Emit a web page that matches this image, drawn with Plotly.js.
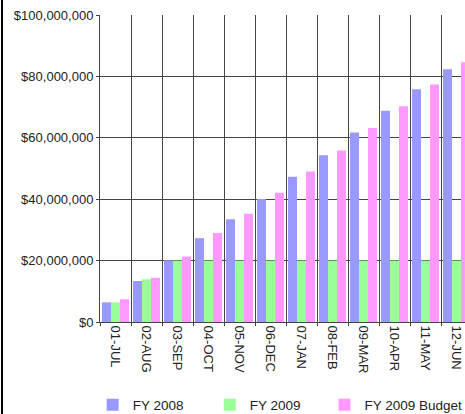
<!DOCTYPE html>
<html>
<head>
<meta charset="utf-8">
<script src="https://cdn.plot.ly/plotly-3.0.1.min.js"></script>
<style>
  html, body { margin: 0; padding: 0; background: #fff; }
  #wrap { position: relative; width: 465px; height: 414px; overflow: hidden; }
  #chart { position: absolute; left: 0; top: 0; width: 480px; height: 414px; }
  #edge { position: absolute; left: 1px; top: 0; width: 2px; height: 414px; background: #000; }
</style>
</head>
<body>
<div id="wrap"><div id="chart"></div><div id="edge"></div></div>
<script>
const months = ['01-JUL','02-AUG','03-SEP','04-OCT','05-NOV','06-DEC','07-JAN','08-FEB','09-MAR','10-APR','11-MAY','12-JUN'];
const fy2008 = [6.4e6, 13.35e6, 20.1e6, 27.3e6, 33.5e6, 40.1e6, 47.3e6, 54.3e6, 61.7e6, 68.8e6, 75.8e6, 82.3e6];
const fy2009 = [6.4e6, 13.9e6, 20.0e6, 20.0e6, 20.0e6, 20.0e6, 20.0e6, 20.0e6, 20.0e6, 20.0e6, 20.0e6, 20.0e6];
const fy2009Budget = [7.4e6, 14.4e6, 21.3e6, 29.0e6, 35.3e6, 42.1e6, 49.0e6, 55.9e6, 63.2e6, 70.3e6, 77.4e6, 84.6e6];
const seriesNames = ['FY 2008', 'FY 2009', 'FY 2009 Budget'];
const yTicks = [0, 20e6, 40e6, 60e6, 80e6, 100e6];

const colors = ['#9999ff', '#99ff99', '#ff99ff'];
const FONT = '"Liberation Sans", Arial, sans-serif';
const legendIds = ['legend', 'legend2', 'legend3'];
const legendX = [0.193, 0.437, 0.676];

const traces = [fy2008, fy2009, fy2009Budget].map((vals, i) => ({
  type: 'bar',
  name: seriesNames[i],
  x: months,
  y: vals,
  legend: legendIds[i],
  marker: { color: colors[i], line: { width: 0 } },
  hoverinfo: 'skip'
}));

const legendBase = (x) => ({
  orientation: 'h',
  xref: 'container', yref: 'container',
  x: x, xanchor: 'left',
  y: 0.022, yanchor: 'middle',
  font: { family: FONT, size: 13.5, color: '#222' },
  bgcolor: 'rgba(0,0,0,0)'
});

const layout = {
  width: 480,
  height: 414,
  margin: { l: 100, r: 7.6, t: 15, b: 92, pad: 0 },
  paper_bgcolor: '#fff',
  plot_bgcolor: '#fff',
  font: { family: FONT, size: 13, color: '#222' },
  barmode: 'group',
  bargap: 0.13,
  bargroupgap: 0,
  showlegend: true,
  legend: legendBase(legendX[0]),
  legend2: legendBase(legendX[1]),
  legend3: legendBase(legendX[2]),
  xaxis: {
    type: 'category',
    tickson: 'boundaries',
    tickangle: 90,
    showgrid: true,
    gridcolor: '#444',
    gridwidth: 1,
    showline: true,
    linecolor: '#444',
    linewidth: 1,
    ticks: 'outside',
    ticklen: 3,
    tickcolor: '#444',
    tickfont: { family: FONT, size: 13, color: '#222' },
    automargin: false,
    fixedrange: true
  },
  yaxis: {
    range: [0, 100e6],
    tickvals: yTicks,
    tickformat: '$,.0f',
    showgrid: true,
    gridcolor: '#444',
    gridwidth: 1,
    zeroline: false,
    showline: true,
    linecolor: '#444',
    linewidth: 1,
    ticks: 'outside',
    ticklen: 3,
    tickcolor: '#444',
    tickfont: { family: FONT, size: 13, color: '#222' },
    automargin: false,
    fixedrange: true
  }
};

Plotly.newPlot('chart', traces, layout, { staticPlot: true, displayModeBar: false });
</script>
</body>
</html>
